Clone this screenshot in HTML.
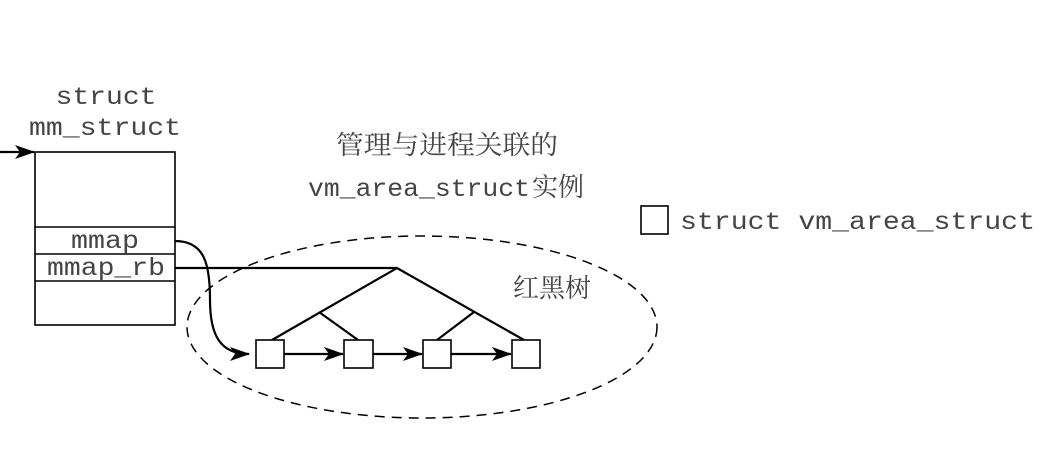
<!DOCTYPE html>
<html><head><meta charset="utf-8"><style>html,body{margin:0;padding:0;background:#fff;}svg{display:block}</style></head>
<body>
<svg width="1048" height="470" viewBox="0 0 1048 470" xmlns="http://www.w3.org/2000/svg">
<defs>
<marker id="ah" markerWidth="20" markerHeight="14" refX="19" refY="7" orient="auto" markerUnits="userSpaceOnUse">
<path d="M0,0 L20,7 L0,14 L5,7 Z" fill="#000"/></marker>
</defs>
<g font-family="Liberation Mono, monospace" font-size="25" fill="#444">
<text x="106" y="104" text-anchor="middle" textLength="101" lengthAdjust="spacingAndGlyphs">struct</text>
<text x="105" y="135" text-anchor="middle" textLength="152" lengthAdjust="spacingAndGlyphs">mm_struct</text>
<text x="105" y="248" text-anchor="middle" textLength="68" lengthAdjust="spacingAndGlyphs">mmap</text>
<text x="106" y="275" text-anchor="middle" textLength="118" lengthAdjust="spacingAndGlyphs">mmap_rb</text>
<text x="308" y="196" textLength="222" lengthAdjust="spacingAndGlyphs">vm_area_struct</text>
<text x="680" y="229" textLength="355" lengthAdjust="spacingAndGlyphs">struct vm_area_struct</text>
</g>
<g font-family="Liberation Serif, Noto Serif CJK SC, serif" font-size="26" fill="#444">
<text x="336" y="154" textLength="222" lengthAdjust="spacingAndGlyphs">管理与进程关联的</text>
<text x="532" y="196">实例</text>
<text x="513" y="297">红黑树</text>
</g>
<g stroke="#000" stroke-width="1.6" fill="none">
<rect x="35" y="152" width="140" height="173"/>
<line x1="35" y1="227" x2="175" y2="227"/>
<line x1="35" y1="254" x2="175" y2="254"/>
<line x1="35" y1="281" x2="175" y2="281"/>
<rect x="641" y="206" width="27" height="28"/>
</g>
<ellipse cx="422" cy="327" rx="235" ry="91" fill="none" stroke="#000" stroke-width="1.5" stroke-dasharray="10,7"/>
<g stroke="#000" stroke-width="2.2" fill="none">
<line x1="0" y1="152" x2="34" y2="152" marker-end="url(#ah)"/>
<path d="M175,241 C205,241 210,265 210,300 C210,335 220,354 249,354" marker-end="url(#ah)"/>
<line x1="175" y1="268" x2="397" y2="268"/>
<polyline points="272,340 397,268 524,340"/>
<line x1="319" y1="312" x2="358" y2="340"/>
<line x1="474" y1="312" x2="437" y2="340"/>
<line x1="284" y1="354" x2="343" y2="354" marker-end="url(#ah)"/>
<line x1="373" y1="354" x2="422" y2="354" marker-end="url(#ah)"/>
<line x1="451" y1="354" x2="511" y2="354" marker-end="url(#ah)"/>
</g>
<g stroke="#000" stroke-width="1.6" fill="#fff">
<rect x="256" y="340" width="28" height="28"/>
<rect x="344" y="340" width="29" height="28"/>
<rect x="423" y="340" width="28" height="28"/>
<rect x="512" y="340" width="28" height="28"/>
</g>
</svg>
</body></html>
